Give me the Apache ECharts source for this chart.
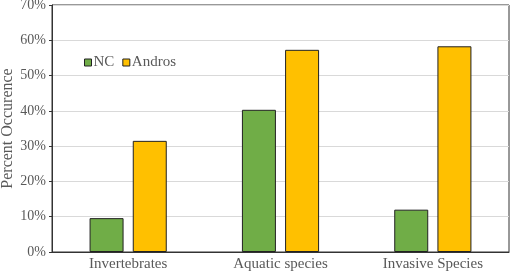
<!DOCTYPE html>
<html><head><meta charset="utf-8">
<script src="https://cdn.jsdelivr.net/npm/echarts@6/dist/echarts.min.js"></script>
<style>html,body{margin:0;padding:0;background:#fff}#c{width:511px;height:279px}</style>
</head><body><div id="c"></div>
<script>
const categories = ["Invertebrates", "Aquatic species", "Invasive Species"];
const ncValues = [9.6, 40.3, 12.0];
const androsValues = [31.5, 57.3, 58.3];
const yTicks = [0, 10, 20, 30, 40, 50, 60, 70];

const font = "Liberation Serif";
const chart = echarts.init(document.getElementById('c'));
chart.setOption({
  animation: false,
  textStyle: { fontFamily: font },
  grid: { left: 52, right: 2, top: 5, bottom: 27, show: true, borderColor: '#333', borderWidth: 1, containLabel: false, outerBoundsMode: 'none' },
  legend: {
    left: 79, top: 50, itemWidth: 7, itemHeight: 7, itemGap: 8,
    textStyle: { fontFamily: font, fontSize: 15, color: '#595959', padding: [0,0,0,-3] },
    data: [
      { name: 'NC', icon: 'rect', itemStyle: { color: '#70ad47', borderColor: '#222', borderWidth: 1 } },
      { name: 'Andros', icon: 'rect', itemStyle: { color: '#ffc000', borderColor: '#222', borderWidth: 1 } }
    ]
  },
  xAxis: {
    type: 'category', data: categories,
    axisLine: { lineStyle: { color: '#333' } },
    axisTick: { show: false },
    axisLabel: { fontFamily: font, fontSize: 15, color: '#595959', margin: 5 }
  },
  yAxis: {
    type: 'value', min: yTicks[0], max: yTicks[yTicks.length-1], interval: 10,
    name: 'Percent Occurence', nameLocation: 'middle', nameGap: 36, nameMoveOverlap: false,
    nameTextStyle: { fontFamily: font, fontSize: 16, color: '#595959' },
    axisLine: { show: true, lineStyle: { color: '#333' } },
    axisTick: { show: true, length: 3, lineStyle: { color: '#333' } },
    axisLabel: { fontFamily: font, fontSize: 14, color: '#595959', formatter: v => v + '%', margin: 6 },
    splitLine: { lineStyle: { color: '#d9d9d9', width: 1 } }
  },
  series: [
    { name: 'NC', type: 'bar', data: ncValues, barWidth: 34, barGap: '27%',
      itemStyle: { color: '#70ad47', borderColor: '#222', borderWidth: 1 } },
    { name: 'Andros', type: 'bar', data: androsValues, barWidth: 34,
      itemStyle: { color: '#ffc000', borderColor: '#222', borderWidth: 1 } }
  ]
});
</script></body></html>
